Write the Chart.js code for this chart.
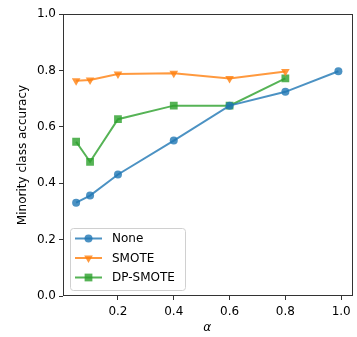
<!DOCTYPE html>
<html>
<head>
<meta charset="utf-8">
<script src="https://cdn.jsdelivr.net/npm/chart.js@4.4.0/dist/chart.umd.min.js"></script>
<style>
  html, body { margin: 0; padding: 0; background: #fff; }
  #wrap { width: 357px; height: 337px; }
</style>
</head>
<body>
<div id="wrap"><canvas id="myChart" width="357" height="337"></canvas></div>
<script>
// alpha values (x) shared by all series
var alphaNone = [0.05, 0.1, 0.2, 0.4, 0.6, 0.8, 0.99];
var alphaOthers = [0.05, 0.1, 0.2, 0.4, 0.6, 0.8];

// minority class accuracy per method
var accNone = [0.331, 0.356, 0.431, 0.551, 0.675, 0.724, 0.797];
var accSmote = [0.763, 0.766, 0.787, 0.79, 0.771, 0.796];
var accDpSmote = [0.547, 0.476, 0.627, 0.675, 0.675, 0.772];

var xTicks = [0.2, 0.4, 0.6, 0.8, 1.0];
var yTicks = [0.0, 0.2, 0.4, 0.6, 0.8, 1.0];

var FONT = "'DejaVu Sans', sans-serif";

function toPoints(xs, ys) {
    return xs.map(function (x, i) { return { x: x, y: ys[i] }; });
}

// box around the plot area, like matplotlib spines
var framePlugin = {
    id: 'frame',
    afterDatasetsDraw: function (chart) {
        var a = chart.chartArea, ctx = chart.ctx;
        var l = Math.round(a.left) + 0.5, t = Math.round(a.top) + 0.5;
        var r = Math.round(a.right) + 0.5, b = Math.round(a.bottom) - 0.5;
        ctx.save();
        ctx.strokeStyle = '#333';
        ctx.lineWidth = 1;
        ctx.strokeRect(l, t, r - l, b - t);
        ctx.restore();
    }
};

// legend drawn inside the lower-left corner of the plot
var innerLegend = {
    id: 'innerLegend',
    afterDraw: function (chart) {
        var ctx = chart.ctx;
        var x0 = 70, y0 = 228, w = 115, h = 62;
        ctx.save();
        ctx.fillStyle = 'rgba(255,255,255,0.8)';
        ctx.strokeStyle = '#d0d0d0';
        ctx.lineWidth = 1;
        ctx.beginPath();
        ctx.roundRect(x0 + 0.5, y0 + 0.5, w, h, 3);
        ctx.fill();
        ctx.stroke();
        chart.data.datasets.forEach(function (ds, i) {
            var cy = 238.5 + i * 19.5;
            ctx.strokeStyle = ds.borderColor;
            ctx.lineWidth = ds.borderWidth;
            ctx.beginPath();
            ctx.moveTo(75, cy);
            ctx.lineTo(102, cy);
            ctx.stroke();
            ctx.fillStyle = ds.pointBackgroundColor;
            Chart.helpers.drawPoint(ctx, {
                pointStyle: ds.pointStyle,
                radius: ds.pointRadius,
                rotation: ds.pointRotation || 0,
                borderWidth: 0
            }, 88.5, cy);
            ctx.fillStyle = '#000';
            ctx.font = '12px ' + FONT;
            ctx.textBaseline = 'middle';
            ctx.textAlign = 'left';
            ctx.fillText(ds.label, 112, cy + 0.5);
        });
        ctx.restore();
    }
};

var ctx = document.getElementById('myChart').getContext('2d');
var myChart = new Chart(ctx, {
    type: 'line',
    data: {
        datasets: [{
            label: 'None',
            data: toPoints(alphaNone, accNone),
            borderColor: 'rgba(31,119,180,0.8)',
            pointBackgroundColor: 'rgba(31,119,180,0.8)',
            pointStyle: 'circle',
            pointRadius: 4
        }, {
            label: 'SMOTE',
            data: toPoints(alphaOthers, accSmote),
            borderColor: 'rgba(255,127,14,0.8)',
            pointBackgroundColor: 'rgba(255,127,14,0.8)',
            pointStyle: 'triangle',
            pointRotation: 180,
            pointRadius: 5
        }, {
            label: 'DP-SMOTE',
            data: toPoints(alphaOthers, accDpSmote),
            borderColor: 'rgba(44,160,44,0.8)',
            pointBackgroundColor: 'rgba(44,160,44,0.8)',
            pointStyle: 'rect',
            pointRadius: 5.5
        }].map(function (ds) {
            ds.borderWidth = 2;
            ds.pointBorderWidth = 0;
            ds.pointHoverRadius = ds.pointRadius;
            ds.fill = false;
            ds.tension = 0;
            return ds;
        })
    },
    options: {
        responsive: false,
        animation: false,
        layout: { padding: { left: 0, right: 3, top: 14, bottom: 0 } },
        plugins: {
            legend: { display: false },
            tooltip: { enabled: false }
        },
        scales: {
            x: {
                type: 'linear',
                min: 0.003,
                max: 1.037,
                afterBuildTicks: function (scale) {
                    scale.ticks = xTicks.map(function (v) { return { value: v }; });
                },
                afterFit: function (scale) { scale.height = 41; },
                grid: { display: true, drawOnChartArea: false, drawTicks: true, tickLength: 4, tickColor: '#333' },
                border: { display: false },
                ticks: {
                    color: '#000',
                    padding: 5,
                    maxRotation: 0,
                    font: { family: FONT, size: 12 },
                    callback: function (v) { return v.toFixed(1); }
                },
                title: {
                    display: true,
                    text: 'α',
                    color: '#000',
                    font: { family: FONT, size: 12, style: 'italic' },
                    padding: { top: 0, bottom: 1.5 }
                }
            },
            y: {
                type: 'linear',
                min: 0,
                max: 1,
                afterBuildTicks: function (scale) {
                    scale.ticks = yTicks.map(function (v) { return { value: v }; });
                },
                afterFit: function (scale) { scale.width = 63; },
                grid: { display: true, drawOnChartArea: false, drawTicks: true, tickLength: 4, tickColor: '#333' },
                border: { display: false },
                ticks: {
                    color: '#000',
                    padding: 3,
                    font: { family: FONT, size: 12 },
                    callback: function (v) { return v.toFixed(1); }
                },
                title: {
                    display: true,
                    text: 'Minority class accuracy',
                    color: '#000',
                    font: { family: FONT, size: 12 },
                    padding: { top: 16, bottom: 0 }
                }
            }
        }
    },
    plugins: [framePlugin, innerLegend]
});
</script>
</body>
</html>
